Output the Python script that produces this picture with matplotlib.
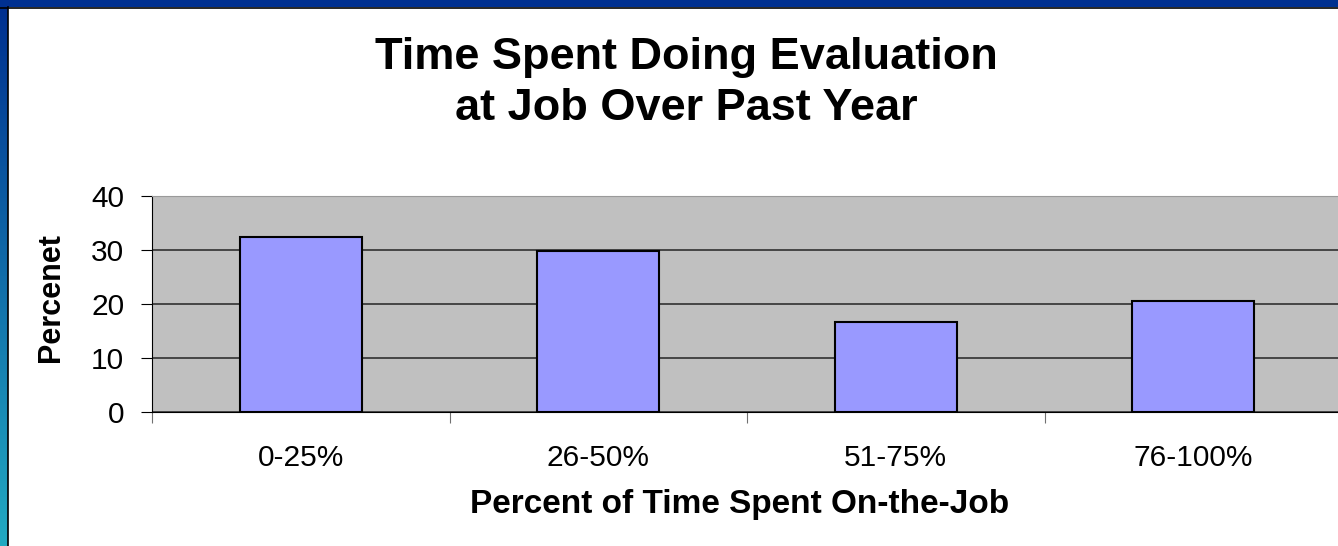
import numpy as np
import matplotlib
matplotlib.use("Agg")
import matplotlib.pyplot as plt

categories = ["0-25%", "26-50%", "51-75%", "76-100%"]
percents = [32.4, 29.8, 16.7, 20.6]
y_ticks = [0, 10, 20, 30, 40]

W, H = 1338, 546
plt.rcParams['font.family'] = ['Liberation Sans', 'DejaVu Sans']

fig = plt.figure(figsize=(W / 100, H / 100), dpi=100)
fig.patch.set_facecolor("white")

# slide frame: blue bar on top, gradient bar on the left
frame = fig.add_axes([0, 0, 1, 1], zorder=-5)
frame.axis("off")
frame.add_patch(plt.Rectangle((0, 0), W, 7, color="#003090", lw=0))
frame.plot([0, W], [7.5, 7.5], color="black", lw=1.2)
top_c = np.array([0, 48, 144]) / 255
bot_c = np.array([34, 170, 194]) / 255
t = np.linspace(0, 1, 200)[:, None]
grad = (top_c[None, :] * (1 - t) + bot_c[None, :] * t)[:, None, :]
frame.imshow(grad, extent=[0, 7.5, H, 7], aspect="auto")
frame.plot([7.8, 7.8], [7, H], color="black", lw=1.2)
frame.set_xlim(0, W)
frame.set_ylim(H, 0)

# chart
ax = fig.add_axes([152 / W, (H - 412) / H, (1342 - 152) / W, (412 - 196) / H])
ax.set_facecolor("#C0C0C0")
x = np.arange(len(categories))
ax.bar(x, percents, width=0.41, color="#9999FF", edgecolor="black", lw=1.5, zorder=3)
ax.set_xlim(-0.5, len(categories) - 0.5)
ax.set_ylim(0, 40)
ax.set_yticks(y_ticks)
ax.yaxis.grid(True, color="#303030", lw=1.2, zorder=1)
ax.set_axisbelow(True)

ax.set_xticks(np.arange(len(categories) + 1) - 0.5)
ax.set_xticklabels([])
ax.set_xticks(x, minor=True)
ax.set_xticklabels(categories, minor=True)
ax.tick_params(axis="x", which="major", length=8, color="#707070", direction="out")
ax.tick_params(axis="x", which="minor", length=0, pad=23, labelsize=21.5)
ax.tick_params(axis="y", length=8, pad=12, labelsize=21.5, color="black")

ax.spines["right"].set_visible(False)
ax.spines["top"].set_color("#9A9A9A")
ax.spines["left"].set_color("black")
ax.spines["bottom"].set_color("black")

fig.text(686 / W, 1 - 57 / H, "Time Spent Doing Evaluation", ha="center", va="center",
         fontsize=32.5, fontweight="bold")
fig.text(686 / W, 1 - 108 / H, "at Job Over Past Year", ha="center", va="center",
         fontsize=32.5, fontweight="bold")
fig.text(740 / W, 1 - 505 / H, "Percent of Time Spent On-the-Job", ha="center", va="center",
         fontsize=24, fontweight="bold")
fig.text(51 / W, 1 - 298 / H, "Percenet", ha="center", va="center", rotation=90,
         fontsize=22, fontweight="bold")

fig.savefig("out.png", dpi=100)
